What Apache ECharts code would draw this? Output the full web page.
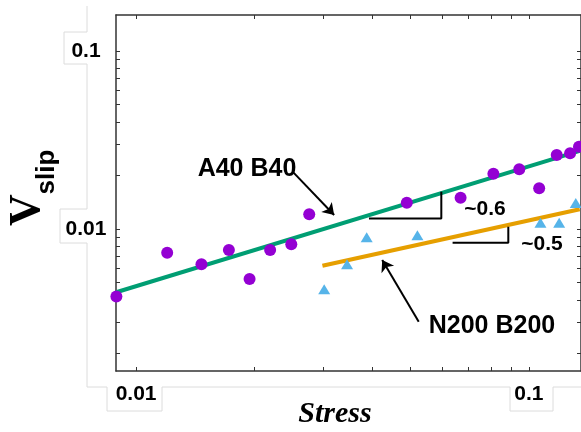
<!DOCTYPE html>
<html>
<head>
<meta charset="utf-8">
<script src="https://cdn.jsdelivr.net/npm/echarts@6/dist/echarts.min.js"></script>
<style>
  html, body { margin: 0; padding: 0; background: #fff; }
  #main { width: 581px; height: 432px; }
</style>
</head>
<body>
<div id="main"></div>
<script>
// A40 B40 (purple circles)
const a40Stress = [0.00891, 0.0120, 0.01467, 0.01723, 0.01945, 0.02194, 0.02484, 0.02759, 0.04888, 0.0670, 0.0812, 0.0945, 0.1062, 0.1177, 0.1273, 0.1341];
const a40Vslip  = [0.00417, 0.00736, 0.00633, 0.00762, 0.00524, 0.00762, 0.0082, 0.01209, 0.01406, 0.0150, 0.02046, 0.02164, 0.01693, 0.02604, 0.02662, 0.0290];
// N200 B200 (blue triangles)
const n200Stress = [0.03012, 0.03444, 0.03864, 0.05202, 0.1070, 0.1194, 0.1316];
const n200Vslip  = [0.00458, 0.00633, 0.00898, 0.00922, 0.01085, 0.01085, 0.0140];
// power-law fits
const a40FitStress = [0.0089, 0.1347];
const a40FitVslip  = [0.00441, 0.0275];
const n200FitStress = [0.02981, 0.1347];
const n200FitVslip  = [0.00622, 0.0129];
// slope triangles
const slope06Stress = [0.03916, 0.05984, 0.05984];
const slope06Vslip  = [0.01146, 0.01146, 0.01621];
const slope05Stress = [0.06393, 0.08862, 0.08862];
const slope05Vslip  = [0.00838, 0.00838, 0.0103];
// arrows [from, to]
const arrowA40  = [[0.02503, 0.02099], [0.03193, 0.01199]];
const arrowN200 = [[0.05242, 0.003014], [0.04232, 0.0067]];

// axes
const xRange = [0.00889, 0.1357];
const yRange = [0.001593, 0.1593];
const xTicks = [0.01, 0.02, 0.03, 0.04, 0.05, 0.06, 0.07, 0.08, 0.09, 0.1];
const yTicks = [0.002, 0.003, 0.004, 0.005, 0.006, 0.007, 0.008, 0.009, 0.01, 0.02, 0.03, 0.04, 0.05, 0.06, 0.07, 0.08, 0.09, 0.1];
const xTickLabels = ['0.01', '0.1'];
const yTickLabels = ['0.1', '0.01'];

const lg = Math.log10;
const pts = (xs, ys) => xs.map((x, i) => [lg(x), lg(ys[i])]);
const labelOf = (labels) => (v) => {
  const hit = labels.find(l => Math.abs(lg(parseFloat(l)) - v) < 1e-6);
  return hit || '';
};

const chart = echarts.init(document.getElementById('main'));

const axisLineStyle = { color: '#333', width: 1.5 };
const tickFont = { fontFamily: 'Liberation Sans', fontWeight: 'bold', fontSize: 21, color: '#000' };

const xBase = {
  type: 'value', min: lg(xRange[0]), max: lg(xRange[1]),
  axisLine: { show: true, onZero: false, lineStyle: axisLineStyle },
  axisTick: { show: true, inside: true, length: 4, lineStyle: { color: '#333' }, customValues: xTicks.map(lg) },
  splitLine: { show: false }
};
const yBase = {
  type: 'value', min: lg(yRange[0]), max: lg(yRange[1]),
  axisLine: { show: true, onZero: false, lineStyle: axisLineStyle },
  axisTick: { show: true, inside: true, length: 4, lineStyle: { color: '#333' }, customValues: yTicks.map(lg) },
  splitLine: { show: false }
};

const option = {
  animation: false,
  backgroundColor: '#fff',
  grid: { left: 116, right: -2, top: 15, bottom: 61 },
  xAxis: [
    Object.assign({}, xBase, {
      position: 'bottom',
      axisLabel: Object.assign({ show: true, margin: 13, customValues: xTickLabels.map(l => lg(parseFloat(l))), formatter: labelOf(xTickLabels) }, tickFont)
    }),
    Object.assign({}, xBase, { position: 'top', axisLabel: { show: false } })
  ],
  yAxis: [
    Object.assign({}, yBase, {
      position: 'left',
      axisLabel: Object.assign({ show: true, margin: 30, align: 'center', customValues: yTickLabels.map(l => lg(parseFloat(l))), formatter: labelOf(yTickLabels) }, tickFont)
    }),
    Object.assign({}, yBase, { position: 'right', axisLabel: { show: false } })
  ],
  series: [
    {
      type: 'line', data: pts(a40FitStress, a40FitVslip), showSymbol: false, z: 2,
      lineStyle: { color: '#009E73', width: 4 }
    },
    {
      type: 'line', data: pts(n200FitStress, n200FitVslip), showSymbol: false, z: 2,
      lineStyle: { color: '#E69F00', width: 4 }
    },
    {
      type: 'line', data: pts(slope06Stress, slope06Vslip), showSymbol: false, z: 2,
      lineStyle: { color: '#000', width: 2 }
    },
    {
      type: 'line', data: pts(slope05Stress, slope05Vslip), showSymbol: false, z: 2,
      lineStyle: { color: '#000', width: 2 }
    },
    {
      type: 'scatter', data: pts(a40Stress, a40Vslip), symbol: 'circle', symbolSize: 12, z: 3,
      itemStyle: { color: '#9400D3', opacity: 1 }
    },
    {
      type: 'scatter', data: pts(n200Stress, n200Vslip), symbol: 'triangle', symbolSize: [12, 10], z: 3,
      itemStyle: { color: '#56B4E9', opacity: 1 }
    },
    {
      type: 'lines', coordinateSystem: 'cartesian2d', z: 4,
      symbol: ['none', 'arrow'], symbolSize: 11,
      lineStyle: { color: '#000', width: 2, opacity: 1 },
      data: [
        { coords: arrowA40.map(p => [lg(p[0]), lg(p[1])]) },
        { coords: arrowN200.map(p => [lg(p[0]), lg(p[1])]) }
      ]
    }
  ],
  graphic: [
    {
      type: 'polyline', z: -1, silent: true,
      shape: { points: [[87, 6], [87, 32], [64, 32], [64, 64], [87, 64], [87, 209], [60, 209], [60, 243], [87, 243], [87, 387],
                        [107, 387], [107, 411], [162, 411], [162, 387], [510, 387], [510, 411], [553, 411], [553, 387], [581, 387]] },
      style: { stroke: '#dcdcdc', lineWidth: 1, fill: null }
    },
    {
      type: 'text', x: 247, y: 169,
      style: { text: 'A40 B40', font: 'bold 25px "Liberation Sans"', fill: '#000', align: 'center', verticalAlign: 'middle' }
    },
    {
      type: 'text', x: 492, y: 326,
      style: { text: 'N200 B200', font: 'bold 25px "Liberation Sans"', fill: '#000', align: 'center', verticalAlign: 'middle' }
    },
    {
      type: 'text', x: 485, y: 209,
      style: { text: '~0.6', font: 'bold 21px "Liberation Sans"', fill: '#000', align: 'center', verticalAlign: 'middle' }
    },
    {
      type: 'text', x: 542, y: 244,
      style: { text: '~0.5', font: 'bold 21px "Liberation Sans"', fill: '#000', align: 'center', verticalAlign: 'middle' }
    },
    {
      type: 'text', x: 335, y: 414,
      style: { text: 'Stress', font: 'italic bold 30px "Liberation Serif"', fill: '#000', align: 'center', verticalAlign: 'middle' }
    },
    {
      type: 'text', x: 28, y: 210, rotation: Math.PI / 2,
      style: { text: 'V', font: 'bold 44px "Liberation Serif"', fill: '#000', align: 'center', verticalAlign: 'middle' }
    },
    {
      type: 'text', x: 47, y: 172, rotation: Math.PI / 2,
      style: { text: 'slip', font: 'bold 26px "Liberation Sans"', fill: '#000', align: 'center', verticalAlign: 'middle' }
    }
  ]
};

chart.setOption(option);
</script>
</body>
</html>
